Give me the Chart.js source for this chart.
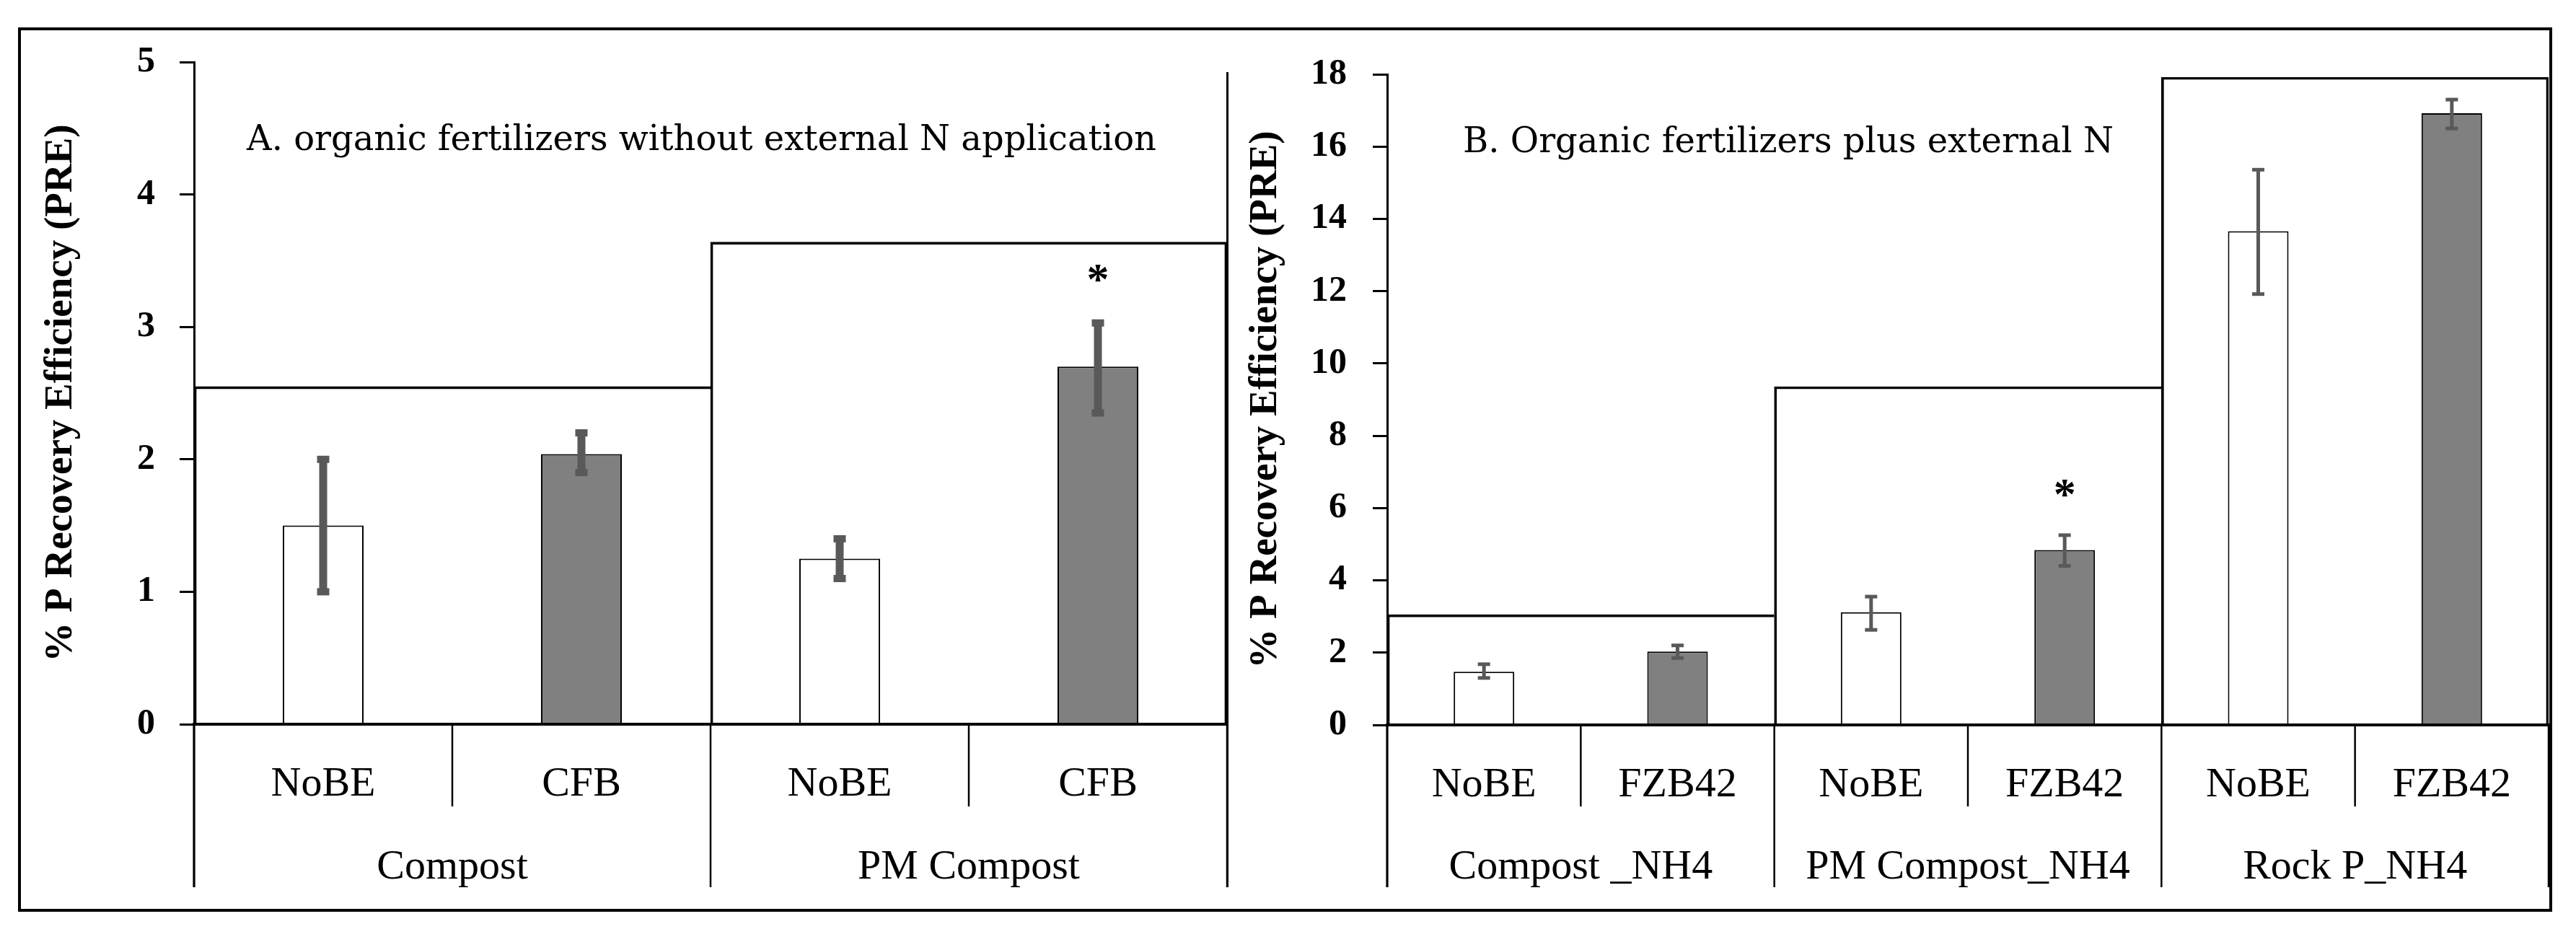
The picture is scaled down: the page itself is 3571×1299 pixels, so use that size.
<!DOCTYPE html>
<html lang="en">
<head>
<meta charset="utf-8" />
<title>P Recovery Efficiency</title>
<script src="https://cdnjs.cloudflare.com/ajax/libs/Chart.js/4.4.0/chart.umd.js"></script>
<style>
    html, body { margin: 0; padding: 0; background: #fff; }
    body { width: 3571px; height: 1299px; position: relative; overflow: hidden; }
    #frame { position: absolute; left: 25px; top: 38px; width: 3513px; height: 1226px; border: 4px solid #000; box-sizing: border-box; }
    .wrap { position: absolute; top: 42px; height: 1218px; }
    #wrapA { left: 29px; width: 1696px; }
    #wrapB { left: 1725px; width: 1809px; }
    #sep { position: absolute; left: 1700px; top: 100px; width: 3px; height: 1130px; background: #000; }
</style>
</head>
<body>
<div id="frame"></div>
<div class="wrap" id="wrapA"><canvas id="chartA"></canvas></div>
<div class="wrap" id="wrapB"><canvas id="chartB"></canvas></div>
<div id="sep"></div>
<script>
// A. organic fertilizers without external N
const catsA = ['NoBE', 'CFB', 'NoBE', 'CFB'];
const groupsA = ['Compost', 'PM Compost'];
const valsA = [1.5, 2.04, 1.25, 2.70];
const lowA = [1.0, 1.9, 1.1, 2.35];
const highA = [2.0, 2.2, 1.4, 3.03];
const boxA = [2.55, 3.64];
const starsA = [null, null, null, 3.43];
const ticksA = [0, 1, 2, 3, 4, 5];

// B. organic fertilizers plus external N
const catsB = ['NoBE', 'FZB42', 'NoBE', 'FZB42', 'NoBE', 'FZB42'];
const groupsB = ['Compost _NH4', 'PM Compost_NH4', 'Rock P_NH4'];
const valsB = [1.47, 2.03, 3.12, 4.84, 13.66, 16.92];
const lowB = [1.30, 1.85, 2.63, 4.40, 11.92, 16.50];
const highB = [1.68, 2.20, 3.55, 5.25, 15.36, 17.30];
const boxB = [3.05, 9.36, 17.92];
const starsB = [null, null, null, 6.65, null, null];
const ticksB = [0, 2, 4, 6, 8, 10, 12, 14, 16, 18];

const yTitle = '% P Recovery Efficiency (PRE)';
const barColors = ['#ffffff', '#808080'];

Chart.defaults.font.family = '"Liberation Serif", "Times New Roman", serif';
Chart.defaults.color = '#000';

const extras = {
    id: 'extras',
    afterDraw(chart, args, o) {
        const ctx = chart.ctx;
        const x = chart.scales.x, y = chart.scales.y, xg = chart.scales.xg;
        const bars = chart.getDatasetMeta(0).data;
        ctx.save();

        // error bars
        ctx.fillStyle = '#595959';
        bars.forEach((bar, i) => {
            const top = y.getPixelForValue(o.high[i]);
            const bot = y.getPixelForValue(o.low[i]);
            ctx.fillRect(bar.x - o.errWidth / 2, top, o.errWidth, bot - top);
            ctx.fillRect(bar.x - o.capWidth / 2, top - o.capHeight / 2, o.capWidth, o.capHeight);
            ctx.fillRect(bar.x - o.capWidth / 2, bot - o.capHeight / 2, o.capWidth, o.capHeight);
        });

        // significance stars
        ctx.fillStyle = '#000';
        ctx.font = 'bold 62px "Liberation Serif"';
        ctx.textAlign = 'center';
        ctx.textBaseline = 'alphabetic';
        o.stars.forEach((s, i) => {
            if (s !== null) ctx.fillText('*', bars[i].x, y.getPixelForValue(s) + 33);
        });

        // category dividers below the axis
        ctx.strokeStyle = '#000';
        ctx.lineWidth = 2.5;
        const vline = (px, y1, y2) => {
            ctx.beginPath();
            ctx.moveTo(px, y1);
            ctx.lineTo(px, y2);
            ctx.stroke();
        };
        for (let i = 0; i < x.ticks.length - 1; i += 2) {
            vline(x.getPixelForValue(i + 0.5), x.top, x.bottom);
        }
        for (let j = 0; j <= xg.ticks.length; j++) {
            vline(xg.getPixelForValue(j - 0.5), x.top, xg.top + 112);
        }
        ctx.lineWidth = 3;
        vline(chart.chartArea.left, x.top, xg.top + 112);

        // panel title
        ctx.font = '48px "DejaVu Serif"';
        ctx.textAlign = 'left';
        ctx.textBaseline = 'middle';
        ctx.fillText(o.title, chart.chartArea.left + o.titleDx, o.titleY);
        ctx.restore();
    }
};

function makeChart(id, p) {
    const nBox = p.box.length;
    return new Chart(id, {
        type: 'bar',
        data: {
            labels: p.cats,
            datasets: [{
                data: p.vals,
                xAxisID: 'x',
                backgroundColor: p.cats.map((c, i) => barColors[i % 2]),
                borderColor: '#000',
                borderWidth: 2,
                barPercentage: 0.313,
                categoryPercentage: 1,
                grouped: false,
                order: 1
            }, {
                data: p.box,
                xAxisID: 'xg',
                backgroundColor: 'rgba(0,0,0,0)',
                borderColor: '#000',
                borderWidth: c => ({ top: 3, left: 3, right: c.dataIndex === nBox - 1 ? 3 : 0, bottom: 0 }),
                barPercentage: 1,
                categoryPercentage: 1,
                grouped: false,
                order: 2
            }]
        },
        options: {
            responsive: true,
            maintainAspectRatio: false,
            animation: false,
            layout: { padding: { top: p.padTop, right: p.padRight, left: 0, bottom: 0 } },
            plugins: {
                legend: { display: false },
                tooltip: { enabled: false },
                extras: {
                    low: p.low, high: p.high, stars: p.stars,
                    errWidth: p.errWidth, capWidth: p.capWidth, capHeight: p.capHeight,
                    title: p.title, titleDx: p.titleDx, titleY: p.titleY
                }
            },
            scales: {
                x: {
                    type: 'category',
                    position: 'bottom',
                    weight: 0,
                    offset: true,
                    grid: { display: false },
                    border: { display: true, color: '#000', width: 4, z: 1 },
                    ticks: { font: { size: 58 }, color: '#000', padding: 41, autoSkip: false, maxRotation: 0 },
                    afterFit: s => { s.height = p.xHeight; }
                },
                xg: {
                    type: 'category',
                    labels: p.groups,
                    position: 'bottom',
                    weight: 1,
                    offset: true,
                    grid: { display: false },
                    border: { display: false },
                    ticks: { font: { size: 58 }, color: '#000', padding: 42, autoSkip: false, maxRotation: 0 },
                    afterFit: s => { s.height = 142; }
                },
                y: {
                    min: 0,
                    max: p.ticks[p.ticks.length - 1],
                    afterBuildTicks: s => { s.ticks = p.ticks.map(v => ({ value: v })); },
                    grid: { drawOnChartArea: false, drawTicks: true, tickLength: 20, lineWidth: 3, color: '#000' },
                    border: { display: true, color: '#000', width: 3, z: 1 },
                    ticks: { font: { size: 50, weight: 'bold' }, color: '#000', padding: p.tickPad },
                    title: {
                        display: true,
                        text: yTitle,
                        color: '#000',
                        font: { size: 55, weight: 'bold', lineHeight: 1 },
                        padding: { top: p.titlePad, bottom: 0 }
                    },
                    afterFit: s => {
                        s.width = p.yWidth;
                        s.paddingTop = 0;
                        s.paddingBottom = 0;
                    }
                }
            }
        },
        plugins: [extras]
    });
}

makeChart('chartA', {
    cats: catsA, groups: groupsA, vals: valsA, low: lowA, high: highA, box: boxA, stars: starsA, ticks: ticksA,
    padTop: 44, padRight: 24, xHeight: 114, yWidth: 240, tickPad: 34, titlePad: 28,
    errWidth: 11, capWidth: 17, capHeight: 10,
    title: 'A. organic fertilizers without external N application', titleDx: 73, titleY: 154
});

makeChart('chartB', {
    cats: catsB, groups: groupsB, vals: valsB, low: lowB, high: highB, box: boxB, stars: starsB, ticks: ticksB,
    padTop: 61, padRight: 1, xHeight: 113, yWidth: 198, tickPad: 36, titlePad: 2,
    errWidth: 5, capWidth: 17, capHeight: 5,
    title: 'B. Organic fertilizers plus external N', titleDx: 105, titleY: 157
});
</script>
</body>
</html>
